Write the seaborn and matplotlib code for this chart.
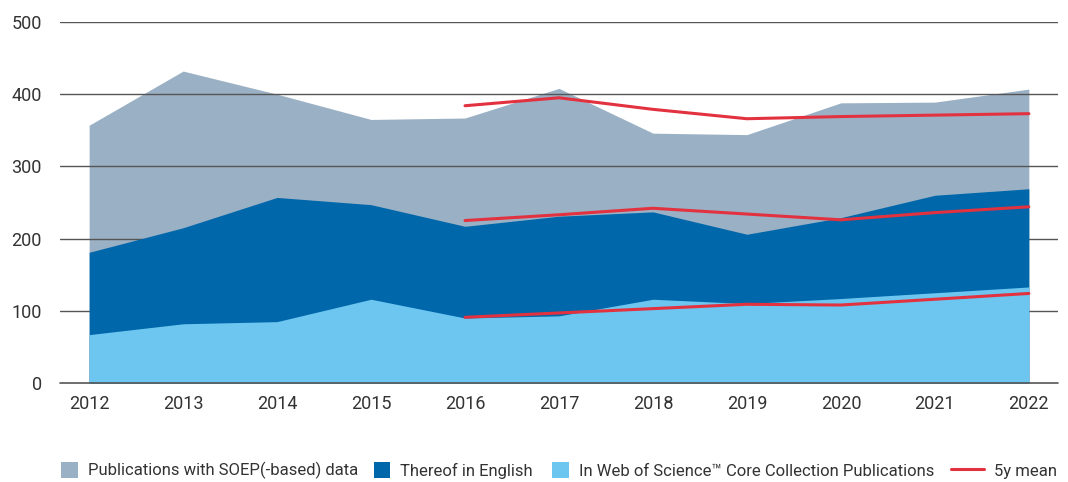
import matplotlib
matplotlib.use("Agg")
import matplotlib.pyplot as plt
from matplotlib.patches import Patch
from matplotlib.lines import Line2D
import seaborn as sns
import pandas as pd

# Publication counts per year
years = [2012, 2013, 2014, 2015, 2016, 2017, 2018, 2019, 2020, 2021, 2022]
soep_total = [357, 432, 400, 365, 367, 408, 346, 344, 388, 389, 407]
english = [181, 215, 257, 247, 217, 231, 237, 206, 229, 260, 269]
web_of_science = [67, 82, 85, 116, 90, 93, 116, 110, 117, 125, 133]

# Five-year means (available from 2016 on)
mean_years = [2016, 2017, 2018, 2019, 2020, 2021, 2022]
mean_total = [384, 395, 379, 366, 369, 371, 373]
mean_english = [225, 233, 242, 234, 226, 236, 244]
mean_wos = [91, 97, 103, 109, 108, 116, 124]

yticks = [0, 100, 200, 300, 400, 500]

legend_labels = [
    "Publications with SOEP(-based) data",
    "Thereof in English",
    "In Web of Science\u2122 Core Collection Publications",
    "5y mean",
]

c_total = "#9AB0C4"
c_english = "#0067AA"
c_wos = "#6CC6F0"
c_mean = "#E3323F"
c_text = "#333333"
c_grid = "#555555"

sns.set_theme(style="white")
plt.rcParams["font.family"] = ["Roboto", "DejaVu Sans"]

df = pd.DataFrame({"year": years, "total": soep_total,
                   "english": english, "wos": web_of_science})
dm = pd.DataFrame({"year": mean_years, "total": mean_total,
                   "english": mean_english, "wos": mean_wos})

fig = plt.figure(figsize=(10.68, 4.82), dpi=100)
ax = fig.add_axes([0.0562, 0.2054, 0.9344, 0.749])

ax.fill_between(df["year"], df["total"], color=c_total, lw=0, zorder=1)
for y in yticks[1:]:
    ax.axhline(y, color=c_grid, lw=1.0, zorder=1.5)
ax.fill_between(df["year"], df["english"], color=c_english, lw=0, zorder=2)
ax.fill_between(df["year"], df["wos"], color=c_wos, lw=0, zorder=3)
ax.axhline(0, color=c_grid, lw=1.2, zorder=5, clip_on=False)

for col in ["total", "english", "wos"]:
    sns.lineplot(data=dm, x="year", y=col, ax=ax, color=c_mean,
                 lw=2.2, zorder=4, legend=False)

ax.set_xlim(2011.69, 2022.31)
ax.set_ylim(0, 500)
ax.set_xticks(years)
ax.set_xticklabels([str(y) for y in years])
ax.set_yticks(yticks)
ax.set_xlabel("")
ax.set_ylabel("")
ax.tick_params(axis="both", length=0, labelsize=13, colors=c_text)
ax.tick_params(axis="x", pad=9)
ax.tick_params(axis="y", pad=13)
for lab in ax.get_yticklabels():
    lab.set_verticalalignment("center_baseline")
    lab.set_y(lab.get_position()[1])
for s in ax.spines.values():
    s.set_visible(False)

handles = [
    Patch(facecolor=c_total, edgecolor="none"),
    Patch(facecolor=c_english, edgecolor="none"),
    Patch(facecolor=c_wos, edgecolor="none"),
    Line2D([0], [0], color=c_mean, lw=2.2),
]
legend_x = [0.057, 0.350, 0.517, 0.890]
for h, lab, x0 in zip(handles, legend_labels, legend_x):
    fig.legend([h], [lab], loc="center left",
               bbox_to_anchor=(x0, 0.024), frameon=False,
               fontsize=12, handlelength=1.0 if isinstance(h, Patch) else 2.0,
               handleheight=1.1, handletextpad=0.6,
               labelcolor=c_text, borderpad=0.0, borderaxespad=0.0)

fig.savefig("out.png", dpi=100)
